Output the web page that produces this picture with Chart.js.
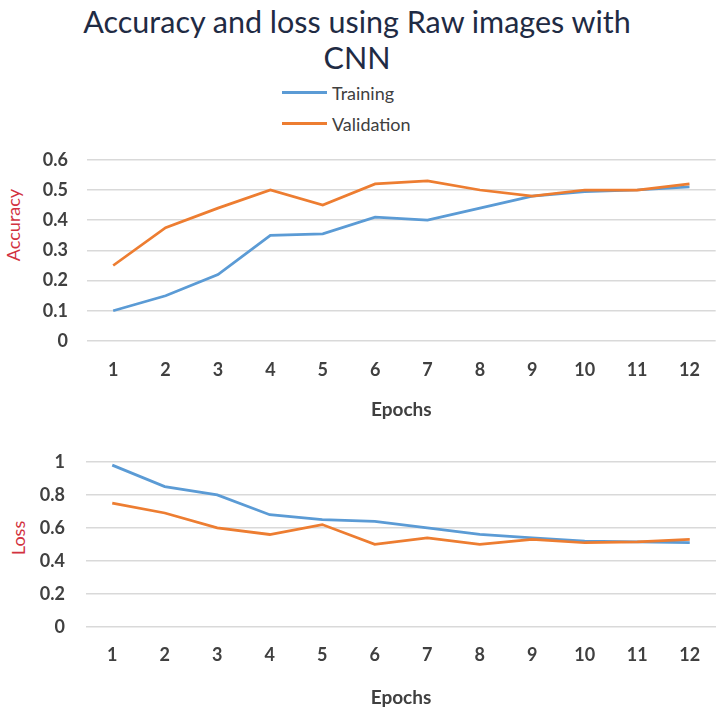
<!DOCTYPE html>
<html>
<head>
<meta charset="utf-8">
<title>Accuracy and loss using Raw images with CNN</title>
<script src="https://cdn.jsdelivr.net/npm/chart.js@4.4.0/dist/chart.umd.min.js"></script>
<style>
    body {
        margin: 0;
        background: #fff;
        width: 718px;
        height: 711px;
        position: relative;
        overflow: hidden;
        font-family: Lato, "Open Sans", sans-serif;
    }
    #title {
        position: absolute;
        left: 0;
        top: 3px;
        width: 714px;
        text-align: center;
        font-size: 30.5px;
        line-height: 36px;
        color: #1f2b44;
    }
    #legend {
        position: absolute;
        left: 282px;
        top: 77px;
    }
    .legend-item {
        height: 31px;
        display: flex;
        align-items: center;
        font-size: 18px;
        color: #404040;
    }
    .legend-line {
        display: inline-block;
        width: 45px;
        height: 3px;
        margin-right: 5px;
    }
    .axis-title {
        position: absolute;
        font-size: 18px;
        color: #d2323f;
        transform: translate(-50%, -50%) rotate(-90deg);
        white-space: nowrap;
    }
    canvas { position: absolute; left: 0; }
</style>
</head>
<body>
<div id="title">Accuracy and loss using Raw images with<br>CNN</div>
<div id="legend"></div>
<div class="axis-title" style="left:13px; top:225px;">Accuracy</div>
<div class="axis-title" style="left:18px; top:538px;">Loss</div>
<canvas id="accChart" width="718" height="300" style="top:130px;"></canvas>
<canvas id="lossChart" width="718" height="281" style="top:430px;"></canvas>

<script>
// Values
const epochs = ['1', '2', '3', '4', '5', '6', '7', '8', '9', '10', '11', '12'];
const seriesNames = ['Training', 'Validation'];
const seriesColors = ['#5b9bd5', '#ed7d31'];

const accTraining   = [0.10, 0.15, 0.22, 0.35, 0.355, 0.41, 0.40, 0.44, 0.48, 0.495, 0.50, 0.51];
const accValidation = [0.25, 0.375, 0.44, 0.50, 0.45, 0.52, 0.53, 0.50, 0.48, 0.50, 0.50, 0.52];

const lossTraining   = [0.98, 0.85, 0.80, 0.68, 0.65, 0.64, 0.60, 0.56, 0.54, 0.52, 0.515, 0.51];
const lossValidation = [0.75, 0.69, 0.60, 0.56, 0.62, 0.50, 0.54, 0.50, 0.53, 0.51, 0.515, 0.53];

const accTicks = { max: 0.6, step: 0.1 };
const lossTicks = { max: 1, step: 0.2 };

const tickFont = { family: 'Lato', size: 18, weight: 'bold' };
const titleFont = { family: 'Lato', size: 19, weight: 'bold' };
const tickColor = '#404040';

// Legend built from the series names / colours
const legend = document.getElementById('legend');
seriesNames.forEach((name, i) => {
    const item = document.createElement('div');
    item.className = 'legend-item';
    item.innerHTML = `<span class="legend-line" style="background:${seriesColors[i]}"></span>${name}`;
    legend.appendChild(item);
});

function makeChart(id, training, validation, ticks, layout) {
    const ctx = document.getElementById(id).getContext('2d');
    return new Chart(ctx, {
        type: 'line',
        data: {
            labels: epochs,
            datasets: [
                {
                    label: seriesNames[0],
                    data: training,
                    borderColor: seriesColors[0],
                    borderWidth: 2.75,
                    pointRadius: 0,
                    tension: 0,
                    order: 1
                },
                {
                    label: seriesNames[1],
                    data: validation,
                    borderColor: seriesColors[1],
                    borderWidth: 2.75,
                    pointRadius: 0,
                    tension: 0,
                    order: 0
                }
            ]
        },
        options: {
            responsive: false,
            animation: false,
            devicePixelRatio: 1,
            layout: {
                padding: { top: layout.top, right: 2, left: 0, bottom: 0 }
            },
            plugins: {
                legend: { display: false },
                tooltip: { enabled: false }
            },
            scales: {
                x: {
                    offset: true,
                    grid: { display: false, drawTicks: false },
                    border: { display: false },
                    ticks: { font: tickFont, color: tickColor, padding: layout.xPad, maxRotation: 0 },
                    title: {
                        display: true,
                        text: 'Epochs',
                        font: titleFont,
                        color: tickColor,
                        padding: { top: 0, bottom: layout.titlePad }
                    },
                    afterFit: (scale) => { scale.height = layout.xHeight; }
                },
                y: {
                    min: 0,
                    max: ticks.max,
                    grid: { color: '#d9d9d9', lineWidth: 1.5, drawTicks: false },
                    border: { display: false },
                    ticks: {
                        stepSize: ticks.step,
                        font: tickFont,
                        color: tickColor,
                        padding: layout.yPad,
                        callback: (v) => String(+v.toFixed(2))
                    },
                    afterFit: (scale) => { scale.width = layout.yWidth; }
                }
            }
        }
    });
}

makeChart('accChart', accTraining, accValidation, accTicks,
    { top: 26, xHeight: 89, xPad: 18, titlePad: 9, yWidth: 87, yPad: 19 });
makeChart('lossChart', lossTraining, lossValidation, lossTicks,
    { top: 23, xHeight: 84, xPad: 17, titlePad: 2, yWidth: 86, yPad: 21 });
</script>
</body>
</html>
